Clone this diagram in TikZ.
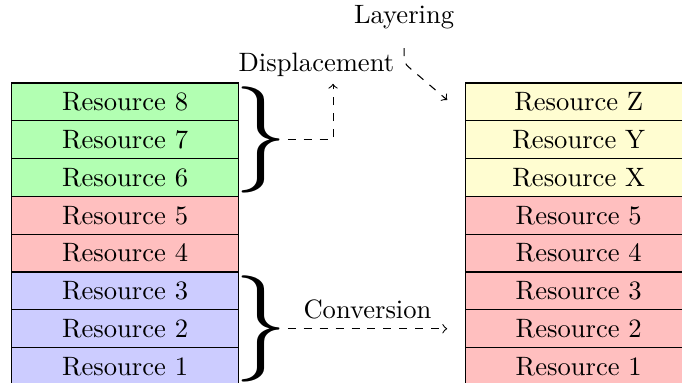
\documentclass[tikz,border=0pt]{standalone}
\usepackage{graphicx}
\begin{document}
\begin{tikzpicture}[>=to, x=1cm, y=1cm]

\tikzstyle{res}=[draw, minimum width=3cm, minimum height=0.5cm, inner sep=0pt, outer sep=0pt]
\tikzstyle{bracenode}=[inner sep=0pt, outer sep=0pt]
\tikzstyle{arrow}=[->, dashed]

\useasboundingbox (-0.155,-3.968) rectangle (8.866,1.098);

% Left stack
\node[res, fill=green!30] (l8) at (1.5,-0.25) {Resource 8};
\node[res, fill=green!30] (l7) at (1.5,-0.75) {Resource 7};
\node[res, fill=green!30] (l6) at (1.5,-1.25) {Resource 6};
\node[res, fill=red!25] (l5) at (1.5,-1.75) {Resource 5};
\node[res, fill=red!25] (l4) at (1.5,-2.25) {Resource 4};
\node[res, fill=blue!20] (l3) at (1.5,-2.75) {Resource 3};
\node[res, fill=blue!20] (l2) at (1.5,-3.25) {Resource 2};
\node[res, fill=blue!20] (l1) at (1.5,-3.75) {Resource 1};

% Right stack
\node[res, fill=yellow!18] (rz) at (7.5,-0.25) {Resource Z};
\node[res, fill=yellow!18] (ry) at (7.5,-0.75) {Resource Y};
\node[res, fill=yellow!18] (rx) at (7.5,-1.25) {Resource X};
\node[res, fill=red!25] (r5) at (7.5,-1.75) {Resource 5};
\node[res, fill=red!25] (r4) at (7.5,-2.25) {Resource 4};
\node[res, fill=red!25] (r3) at (7.5,-2.75) {Resource 3};
\node[res, fill=red!25] (r2) at (7.5,-3.25) {Resource 2};
\node[res, fill=red!25] (r1) at (7.5,-3.75) {Resource 1};

% Braces
\node[bracenode] (topbrace) at (3.30,-0.75) {\raisebox{-10pt}[19.5pt][19.5pt]{\scalebox{4}{$\}$}}};
\node[bracenode] (botbrace) at (3.30,-3.25) {\raisebox{-10pt}[19.5pt][19.5pt]{\scalebox{4}{$\}$}}};

% Labels
\node (disp) at (4.03,0.245) {Displacement};
\node (layer) at (5.19,0.866) {Layering};

\coordinate (dispend) at (4.25,-0.01);
\coordinate (layend) at (5.76,-0.225);
\coordinate (convend) at (5.76,-3.25);

% Arrows
\draw[arrow] (topbrace.east) -| (dispend);
\draw[arrow, rounded corners=2pt] ([yshift=-3.5pt]layer.south) -- ++(0,-0.2) -- (layend);
\draw[arrow] (botbrace.east) -- (convend) node[midway, above] {Conversion};

\end{tikzpicture}
\end{document}
